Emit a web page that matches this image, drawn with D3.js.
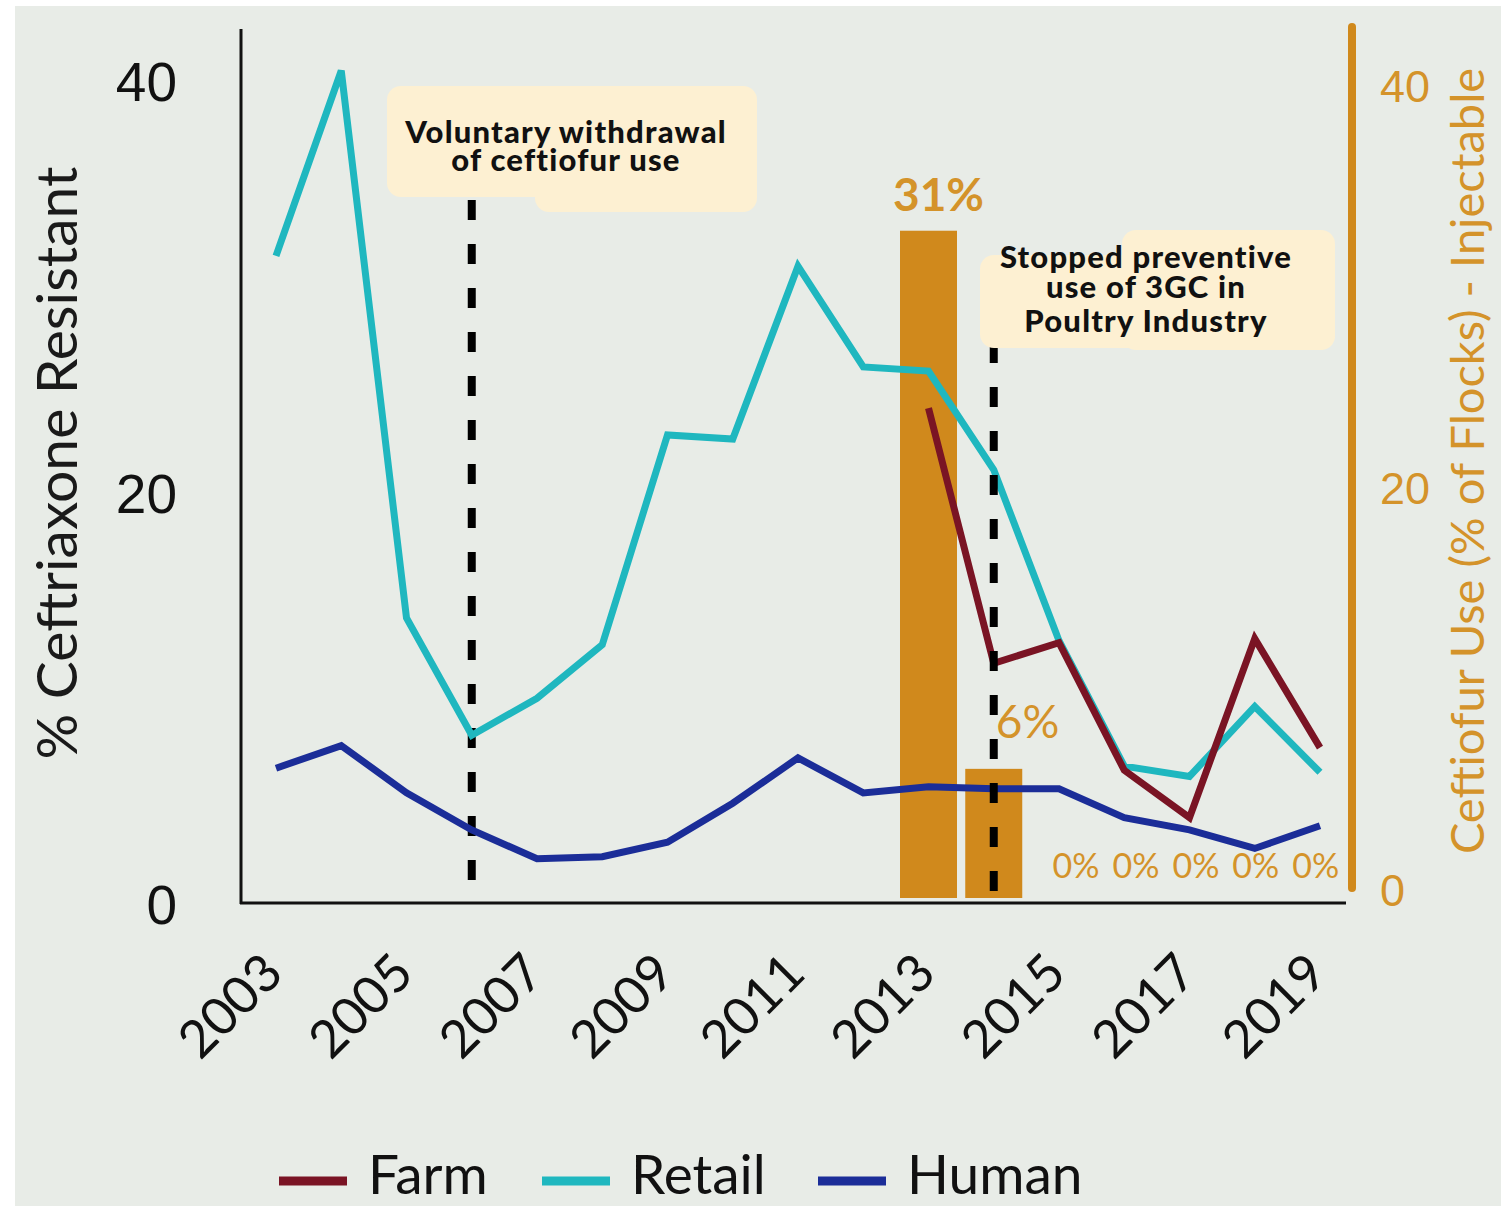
<!DOCTYPE html>
<html>
<head>
<meta charset="utf-8">
<script src="https://cdn.jsdelivr.net/npm/d3@7"></script>
<style>
  html, body { margin: 0; padding: 0; background: #ffffff; }
  svg { display: block; }
</style>
</head>
<body>
<script>
// ---------- data ----------
const years = [2003,2004,2005,2006,2007,2008,2009,2010,2011,2012,2013,2014,2015,2016,2017,2018,2019];
const retailValues = [31.5,40.5,13.9,8.2,10.0,12.6,22.8,22.6,31.0,26.1,25.9,21.1,12.8,6.7,6.2,9.6,6.4];
const humanValues  = [6.6,7.7,5.4,3.6,2.2,2.3,3.0,4.9,7.1,5.4,5.7,5.6,5.6,4.2,3.6,2.7,3.8];
const farmYears  = [2013,2014,2015,2016,2017,2018,2019];
const farmValues = [24.1,11.7,12.7,6.5,4.2,12.9,7.6];
const barYears  = [2013,2014,2015,2016,2017,2018,2019];
const barValues = [31,6,0,0,0,0,0];
const xTickLabels = [2003,2005,2007,2009,2011,2013,2015,2017,2019];
const leftTicks = [0,20,40];
const rightTicks = [0,20,40];
const eventYears = [2006,2014];
const eventTexts = [["Voluntary withdrawal","of ceftiofur use"],["Stopped preventive","use of 3GC in","Poultry Industry"]];
const legendNames = ["Farm","Retail","Human"];

// ---------- styles ----------
const W = 1501, H = 1206;
const C = { farm:"#7a1424", retail:"#1fb7bf", human:"#1b2d98", bar:"#d0891c", orange:"#d4932a", bg:"#e8ece7", box:"#fdf0d2" };

const svg = d3.select("body").append("svg").attr("width", W).attr("height", H);
svg.append("rect").attr("x",15).attr("y",6).attr("width",W-15).attr("height",H-6).attr("fill",C.bg);

const x = d3.scaleLinear().domain([2003,2019]).range([276,1320]);
const y = d3.scaleLinear().domain([0,40]).range([904,81]);
const yBar = d3.scaleLinear().domain([0,40]).range([898,37]);
const yRight = d3.scaleLinear().domain([0,40]).range([889,85]);

// ---------- bars ----------
const barW = 57;
const bars = barYears.map((yr,i)=>({yr, v:barValues[i]}));
svg.append("g").selectAll("rect").data(bars.filter(d=>d.v>0)).join("rect")
  .attr("x", d=>x(d.yr)-barW/2).attr("width", barW)
  .attr("y", d=>yBar(d.v)).attr("height", d=>yBar(0)-yBar(d.v))
  .attr("fill", C.bar);

// bar labels
svg.append("g").selectAll("text").data(bars).join("text")
  .attr("x", d=> d.v>=10 ? x(d.yr)+10 : d.v>0 ? x(d.yr)+2 : x(d.yr)+17-(d.yr-2015)*5.3)
  .attr("y", d=> d.v>=10 ? yBar(d.v)-20 : d.v>0 ? 738 : 878)
  .attr("text-anchor", d=> d.v>0 && d.v<10 ? "start" : "middle")
  .attr("font-family","Lato, sans-serif")
  .attr("font-size", d=> d.v>=10 ? 46 : d.v>0 ? 46 : 34)
  .attr("font-weight", d=> d.v>=10 ? 700 : 400)
  .attr("fill", C.orange)
  .text(d=>d.v+"%");

// ---------- axes ----------
// left axis
const gL = svg.append("g").attr("transform","translate(241,0)")
  .call(d3.axisLeft(y).tickValues(leftTicks).tickSize(0).tickPadding(64));
gL.select(".domain").remove();
gL.selectAll("text").attr("font-family","'Liberation Sans', Arial, sans-serif")
  .attr("font-size",55).attr("fill","#111").attr("dy","0.36em");
svg.append("line").attr("x1",241).attr("x2",241).attr("y1",29).attr("y2",904)
  .attr("stroke","#111").attr("stroke-width",3);

// bottom axis
const gB = svg.append("g").attr("transform","translate(0,903)")
  .call(d3.axisBottom(x).tickValues(xTickLabels).tickFormat(d3.format("d")).tickSize(0));
gB.select(".domain").remove();
gB.selectAll("text")
  .attr("font-family","Lato, sans-serif").attr("font-size",52).attr("fill","#111")
  .attr("text-anchor","end").attr("dy",0).attr("y",0)
  .attr("transform","translate(9,73) rotate(-45)");
svg.append("line").attr("x1",240).attr("x2",1346).attr("y1",903).attr("y2",903)
  .attr("stroke","#111").attr("stroke-width",3);

// right axis
const gR = svg.append("g").attr("transform","translate(1352,0)")
  .call(d3.axisRight(yRight).tickValues(rightTicks).tickSize(0).tickPadding(28));
gR.select(".domain").remove();
gR.selectAll("text").attr("font-family","'Liberation Sans', Arial, sans-serif")
  .attr("font-size",45).attr("fill",C.orange).attr("dy","0.36em");
svg.append("line").attr("x1",1352).attr("x2",1352).attr("y1",yBar(40)-10).attr("y2",888)
  .attr("stroke",C.bar).attr("stroke-width",8).attr("stroke-linecap","round");

// axis titles
svg.append("text").attr("transform","translate(77,463) rotate(-90)")
  .attr("text-anchor","middle").attr("font-family","Lato, sans-serif")
  .attr("font-size",57).attr("fill","#1a1a1a").text("% Ceftriaxone Resistant");
svg.append("text").attr("transform","translate(1484,461) rotate(-90)")
  .attr("text-anchor","middle").attr("font-family","Lato, sans-serif")
  .attr("font-size",47).attr("fill",C.orange).text("Ceftiofur Use (% of Flocks) - Injectable");

// dashed event lines (first one sits under the data lines, second one above)
const dashSpans = [[200,885],[343,893]];
const dashLayerBelow = svg.append("g");
// ---------- lines ----------
const line = d3.line().x(d=>x(d[0])).y(d=>y(d[1]));
const series = [
  {name:"Retail", color:C.retail, pts: years.map((yr,i)=>[yr,retailValues[i]])},
  {name:"Human", color:C.human, pts: years.map((yr,i)=>[yr,humanValues[i]])},
  {name:"Farm", color:C.farm, pts: farmYears.map((yr,i)=>[yr,farmValues[i]])}
];
svg.append("g").selectAll("path").data(series).join("path")
  .attr("d", d=>line(d.pts)).attr("fill","none")
  .attr("stroke", d=>d.color).attr("stroke-width",7).attr("stroke-linejoin","miter");
const dashLayerAbove = svg.append("g");

eventYears.forEach((yr,i)=>{
  (i===0 ? dashLayerBelow : dashLayerAbove).append("line")
    .attr("x1",x(yr)).attr("x2",x(yr))
    .attr("y1",dashSpans[i][0]).attr("y2",dashSpans[i][1])
    .attr("stroke","#000").attr("stroke-width",8).attr("stroke-dasharray","20 24");
});

// ---------- annotation boxes ----------
const boxes = [
  {rects:[[387,86,370,111],[535,150,222,62]], cx:566, base:[143,171]},
  {rects:[[980,255,355,93],[1122,230,213,120]], cx:1146, base:[268,298,332]}
];
boxes.forEach((b,i)=>{
  const g = svg.append("g");
  g.selectAll("rect").data(b.rects).join("rect")
    .attr("x",d=>d[0]).attr("y",d=>d[1]).attr("width",d=>d[2]).attr("height",d=>d[3])
    .attr("rx",14).attr("fill",C.box);
  g.selectAll("text").data(eventTexts[i]).join("text")
    .attr("x",b.cx).attr("y",(d,j)=>b.base[j]).attr("text-anchor","middle")
    .attr("font-family","Lato, sans-serif").attr("font-weight",900).attr("font-size",31)
    .attr("letter-spacing","1.2px")
    .attr("fill","#111").text(d=>d);
});

// ---------- legend ----------
const legColors = [C.farm, C.retail, C.human];
const legX = [279, 542, 818];
const lg = svg.append("g");
legendNames.forEach((n,i)=>{
  lg.append("line").attr("x1",legX[i]).attr("x2",legX[i]+68).attr("y1",1181).attr("y2",1181)
    .attr("stroke",legColors[i]).attr("stroke-width",9);
  lg.append("text").attr("x",legX[i]+89).attr("y",1194)
    .attr("font-family","Lato, sans-serif").attr("font-size",55).attr("fill","#111").text(n);
});
</script>
</body>
</html>
